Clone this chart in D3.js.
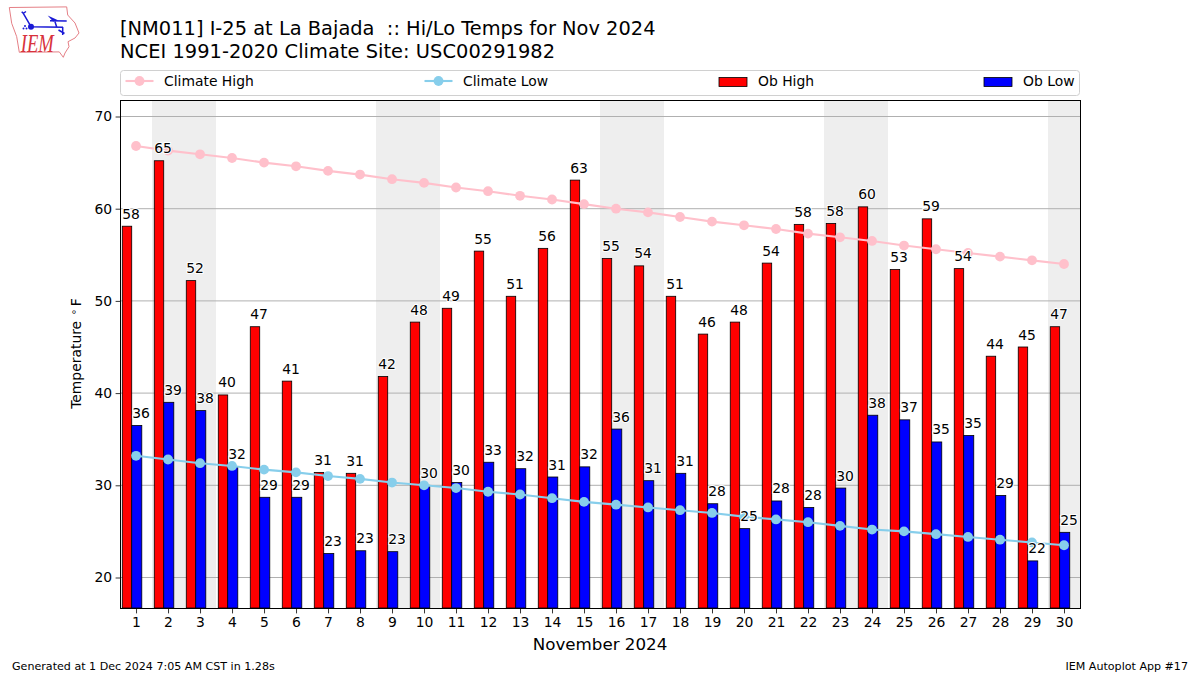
<!DOCTYPE html>
<html><head><meta charset="utf-8">
<script src="https://cdn.jsdelivr.net/npm/d3@7/dist/d3.min.js"></script>
<style>html,body{margin:0;padding:0;background:#fff}svg{display:block}text{font-family:"DejaVu Sans",sans-serif;fill:#000}</style>
</head><body><svg id="c" width="1200" height="675"></svg>
<script>
const days=d3.range(1,31);
const obHigh=[58.1,65.2,52.2,39.8,47.2,41.3,31.4,31.3,41.8,47.7,49.2,55.4,50.5,55.7,63.1,54.6,53.8,50.5,46.4,47.7,54.1,58.3,58.4,60.2,53.4,58.9,53.5,44,45,47.2];
const obLow=[36.49,39,38.1,32,28.7,28.7,22.6,22.9,22.8,30,30.3,32.5,31.8,30.9,32,36.1,30.5,31.3,28,25.3,28.3,27.6,29.7,37.6,37.1,34.7,35.4,28.9,21.8,24.9];
const climateHigh=[66.8,66.3,65.9,65.5,65,64.6,64.1,63.7,63.2,62.8,62.3,61.9,61.4,61,60.5,60,59.6,59.1,58.6,58.2,57.8,57.3,56.9,56.5,56,55.6,55.2,54.8,54.4,54];
const climateLow=[33.2,32.8,32.4,32.1,31.7,31.4,31,30.7,30.3,30,29.7,29.3,29,28.6,28.2,27.9,27.6,27.3,27,26.6,26.3,26,25.6,25.2,25,24.7,24.4,24.1,23.8,23.5];
const yTicks=[20,30,40,50,60,70];
const weekends=[[1.5,3.5],[8.5,10.5],[15.5,17.5],[22.5,24.5],[29.5,30.5]];
const titleLines=["[NM011] I-25 at La Bajada  :: Hi/Lo Temps for Nov 2024","NCEI 1991-2020 Climate Site: USC00291982"];
const legendItems=["Climate High","Climate Low","Ob High","Ob Low"];

const svg=d3.select("#c");
const L=121,R=1080,T=100,B=608;
const x=d3.scaleLinear().domain([0.53,30.5]).range([L,R]);
const y=d3.scaleLinear().domain([20,70]).range([577.5,116.5]);
const COL={hi:"#ff0000",lo:"#0000ff",ch:"#ffc0cb",cl:"#87ceeb"};

// logo
const logo=svg.append("g");
logo.append("path").attr("d","M9.3,7.5 L66.7,6.9 L67.7,15 L75,23 L79,33 L75,38 L68,41.7 L69,46.7 L65,53 L63.3,57.3 L59.3,51.9 L19.3,52.3 L16.7,36.7 L11.7,23.3 Z")
 .attr("fill","#fff").attr("stroke","#e57f86").attr("stroke-width",1);
const blue="#1a1ad6";
logo.append("path").attr("d","M23.3,13.3 L31,26.7 M21.7,11.7 L23.3,13.3 L26,11.5 M31,26.7 L63,27.2 M50,20.7 L66.7,21 M55,21.7 L56.7,27 M62.7,27 L62.7,35 M58.5,30 L64.5,33.5")
 .attr("fill","none").attr("stroke",blue).attr("stroke-width",1.5);
logo.append("path").attr("d","M47.7,15.5 L58.5,20.5 L53,21.5 Z").attr("fill",blue);
logo.append("circle").attr("cx",31).attr("cy",26.7).attr("r",3).attr("fill",blue);
logo.append("g").selectAll("circle").data([[23.5,28.5],[25,26],[26.5,28.5]]).join("circle").attr("cx",d=>d[0]).attr("cy",d=>d[1]).attr("r",1).attr("fill",blue);
logo.append("text").attr("x",20.7).attr("y",51.7).attr("textLength",33).attr("lengthAdjust","spacingAndGlyphs").style("font-family","Liberation Serif").style("font-style","italic").style("font-size","25px").style("fill","#d8323c").text("IEM");

// titles
const titleLen=[535.5,435];
svg.selectAll("text.title").data(titleLines).join("text").attr("class","title").attr("x",120).attr("y",(d,i)=>35+i*22.5).attr("textLength",(d,i)=>titleLen[i]).style("font-size","19.4px").style("white-space","pre").text(d=>d);

// weekends
const plot=svg.append("g");
plot.selectAll("rect.wk").data(weekends).join("rect").attr("class","wk").attr("x",d=>x(d[0])).attr("width",d=>x(d[1])-x(d[0])).attr("y",T).attr("height",B-T).attr("fill","#eeeeee");
// grid
plot.selectAll("line.g").data(yTicks).join("line").attr("class","g").attr("x1",L).attr("x2",R).attr("y1",d=>y(d)).attr("y2",d=>y(d)).attr("stroke","#b0b0b0").attr("stroke-width",1);
// bars
function bars(vals,a,b,col){
 plot.append("g").selectAll("rect").data(vals).join("rect")
  .attr("x",(d,i)=>x(days[i]+a)).attr("width",x(b)-x(a)).attr("y",d=>y(d)).attr("height",d=>B-y(d))
  .attr("fill",col).attr("stroke","#000").attr("stroke-width",0.8);
}
bars(obHigh,-0.43,-0.135,COL.hi);
bars(obLow,-0.135,0.18,COL.lo);
// climate lines
function climate(vals,col){
 plot.append("path").datum(vals).attr("fill","none").attr("stroke",col).attr("stroke-width",2.1)
  .attr("d",d3.line().x((d,i)=>x(days[i])).y(d=>y(d)));
 plot.append("g").selectAll("circle").data(vals).join("circle").attr("cx",(d,i)=>x(days[i])).attr("cy",d=>y(d)).attr("r",4.9).attr("fill",col);
}
climate(climateHigh,COL.ch);
climate(climateLow,COL.cl);
// labels
function labels(vals,dx){
 plot.append("g").selectAll("text").data(vals).join("text")
  .attr("x",(d,i)=>x(days[i])+dx).attr("y",d=>y(d)-7.5).attr("text-anchor","middle")
  .style("font-size","13.9px").style("paint-order","stroke").style("stroke","#fff").style("stroke-width","2px").text(d=>Math.round(d));
}
labels(obHigh,-5);
labels(obLow,5);
// frame + axes
svg.append("rect").attr("x",L-0.5).attr("y",T+0.5).attr("width",R-L+1).attr("height",B-T).attr("fill","none").attr("stroke","#000").attr("stroke-width",1);
const ax=svg.append("g").attr("transform",`translate(0,${B+0.5})`).call(d3.axisBottom(x).tickValues(days).tickFormat(d3.format("d")).tickSize(4.9).tickPadding(3.5));
const ay=svg.append("g").attr("transform",`translate(${L-0.5},0)`).call(d3.axisLeft(y).tickValues(yTicks).tickSize(4.9).tickPadding(3.5));
[ax,ay].forEach(a=>{a.select(".domain").remove();a.selectAll("text").style("font-size","13.9px").style("font-family","DejaVu Sans");a.selectAll("line").attr("stroke","#000").attr("stroke-width",0.8);});
svg.append("text").attr("x",600).attr("y",649.5).attr("text-anchor","middle").style("font-size","16.7px").text("November 2024");
const yl=svg.append("text").attr("transform","translate(81,353.5) rotate(-90)").attr("text-anchor","middle").style("font-size","13.9px").style("white-space","pre");
yl.append("tspan").text("Temperature ");
yl.append("tspan").attr("dy",-4).attr("dx",1.5).style("font-size","10px").text("∘");
yl.append("tspan").attr("dy",4).attr("dx",2.5).text("F");
// legend
const lg=svg.append("g");
lg.append("rect").attr("x",120.5).attr("y",70.5).attr("width",959).attr("height",25).attr("rx",3).attr("fill","#fff").attr("stroke","#d0d0d0");
const lx=[125.5,424.5,719,984];
legendItems.forEach((t,i)=>{
 const g=lg.append("g").attr("transform",`translate(${lx[i]},0)`);
 if(i<2){const c=i==0?COL.ch:COL.cl;
  g.append("line").attr("x1",0).attr("x2",28).attr("y1",81).attr("y2",81).attr("stroke",c).attr("stroke-width",2.1);
  g.append("circle").attr("cx",14).attr("cy",81).attr("r",4.9).attr("fill",c);
 } else {
  g.append("rect").attr("x",0).attr("y",77.5).attr("width",28).attr("height",9).attr("fill",i==2?COL.hi:COL.lo).attr("stroke","#000").attr("stroke-width",0.8);
 }
 g.append("text").attr("x",i<2?38.5:39).attr("y",86).style("font-size","13.9px").text(t);
});
// footer
svg.append("text").attr("x",12).attr("y",670).style("font-size","11.1px").text("Generated at 1 Dec 2024 7:05 AM CST in 1.28s");
svg.append("text").attr("x",1188).attr("y",670).attr("text-anchor","end").style("font-size","11.1px").text("IEM Autoplot App #17");
</script></body></html>
